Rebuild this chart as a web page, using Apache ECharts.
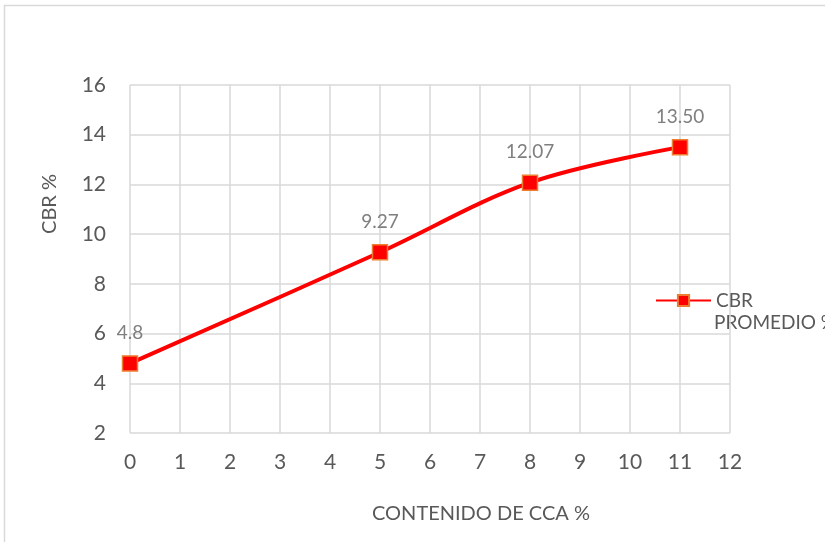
<!DOCTYPE html>
<html><head><meta charset="utf-8">
<script src="https://cdn.jsdelivr.net/npm/echarts@6/dist/echarts.min.js"></script>
<style>html,body{margin:0;padding:0;background:#fff}#c{width:825px;height:542px}</style>
</head><body><div id="c"></div>
<script>
var xValues = [0, 5, 8, 11];
var cbrValues = [4.8, 9.27, 12.07, 13.5];
var pointLabels = ['4.8', '9.27', '12.07', '13.50'];
var seriesName = 'CBR';
var seriesNameLine2 = 'PROMEDIO %';
var xTitle = 'CONTENIDO DE CCA %';
var yTitle = 'CBR %';

var chart = echarts.init(document.getElementById('c'), null, {renderer: 'canvas'});
var font = 'Lato, "Open Sans", sans-serif';
chart.setOption({
  animation: false,
  textStyle: {fontFamily: font},
  graphic: [
    {type: 'rect', shape: {x: 4.5, y: 5.5, width: 900, height: 600}, style: {fill: 'none', stroke: '#d9d9d9', lineWidth: 1.5}, silent: true},
    {type: 'text', x: 481, y: 514, style: {text: xTitle, fontSize: 20, fill: '#595959', fontFamily: font, align: 'center', verticalAlign: 'middle'}},
    {type: 'text', x: 50, y: 204, rotation: Math.PI / 2, style: {text: yTitle, fontSize: 20, fill: '#595959', fontFamily: font, align: 'center', verticalAlign: 'middle'}},
    {type: 'text', x: 714, y: 323, style: {text: seriesNameLine2, fontSize: 19, fill: '#595959', fontFamily: font, align: 'left', verticalAlign: 'middle'}}
  ],
  grid: {left: 130, right: 95, top: 85, bottom: 109},
  legend: {
    left: 655, top: 291, padding: 0,
    itemWidth: 55, itemHeight: 14,
    textStyle: {fontSize: 19, color: '#595959', fontFamily: font},
    data: [seriesName]
  },
  xAxis: {
    type: 'value', min: 0, max: 12, interval: 1,
    axisLine: {show: false}, axisTick: {show: false},
    axisLabel: {fontSize: 21, color: '#595959', margin: 19, fontFamily: font},
    splitLine: {show: true, lineStyle: {color: '#d9d9d9', width: 1.5}}
  },
  yAxis: {
    type: 'value', min: 2, max: 16, interval: 2,
    axisLine: {show: false}, axisTick: {show: false},
    axisLabel: {fontSize: 21, color: '#595959', margin: 24, fontFamily: font},
    splitLine: {show: true, lineStyle: {color: '#d9d9d9', width: 1.5}}
  },
  series: [{
    name: seriesName, type: 'line', smooth: 0.35,
    data: xValues.map(function (x, i) { return [x, cbrValues[i]]; }),
    symbol: 'rect', symbolSize: 15,
    lineStyle: {color: '#ff0000', width: 4},
    itemStyle: {color: '#ff0000', borderColor: '#ed7d31', borderWidth: 1.5},
    label: {
      show: true, position: 'top', distance: 13,
      formatter: function (p) { return pointLabels[p.dataIndex]; },
      fontSize: 19, color: '#7f7f7f', fontFamily: font
    }
  }]
});
</script></body></html>
